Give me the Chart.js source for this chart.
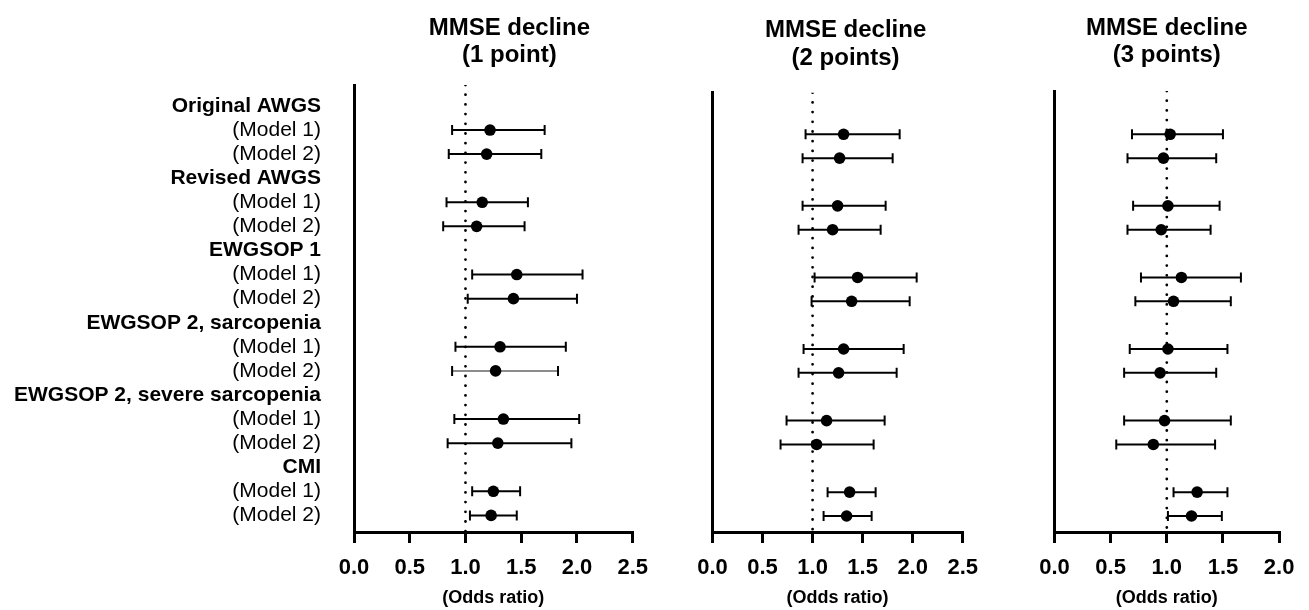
<!DOCTYPE html>
<html>
<head>
<meta charset="utf-8">
<script src="https://cdn.jsdelivr.net/npm/chart.js@4.4.1/dist/chart.umd.min.js"></script>
<style>
  html, body { margin: 0; padding: 0; background: #fff; }
  #wrap { position: relative; width: 1309px; height: 610px; overflow: hidden; }
  canvas { position: absolute; top: 0; }
</style>
</head>
<body>
<div id="wrap">
  <canvas id="panel1" width="660" height="610" style="left:0px"></canvas>
  <canvas id="panel2" width="330" height="610" style="left:660px"></canvas>
  <canvas id="panel3" width="319" height="610" style="left:990px"></canvas>
</div>
<script>
// row labels down the left side (headers are bold)
const rowLabels = [
    'Original AWGS', '(Model 1)', '(Model 2)',
    'Revised AWGS', '(Model 1)', '(Model 2)',
    'EWGSOP 1', '(Model 1)', '(Model 2)',
    'EWGSOP 2, sarcopenia', '(Model 1)', '(Model 2)',
    'EWGSOP 2, severe sarcopenia', '(Model 1)', '(Model 2)',
    'CMI', '(Model 1)', '(Model 2)'
];
const headerRows = [0, 3, 6, 9, 12, 15];
const modelRows = [1, 2, 4, 5, 7, 8, 10, 11, 13, 14, 16, 17];

// MMSE decline (1 point)
const title1 = ['MMSE decline', '(1 point)'];
const or1 = [1.22, 1.19, 1.15, 1.10, 1.46, 1.43, 1.31, 1.27, 1.34, 1.29, 1.25, 1.23];
const lo1 = [0.88, 0.85, 0.83, 0.80, 1.06, 1.02, 0.91, 0.88, 0.90, 0.84, 1.06, 1.04];
const hi1 = [1.71, 1.68, 1.56, 1.53, 2.05, 2.00, 1.90, 1.83, 2.02, 1.95, 1.49, 1.46];

// MMSE decline (2 points)
const title2 = ['MMSE decline', '(2 points)'];
const or2 = [1.31, 1.27, 1.25, 1.20, 1.45, 1.39, 1.31, 1.26, 1.14, 1.04, 1.37, 1.34];
const lo2 = [0.93, 0.90, 0.90, 0.86, 1.02, 0.99, 0.91, 0.86, 0.74, 0.68, 1.15, 1.11];
const hi2 = [1.87, 1.80, 1.73, 1.68, 2.04, 1.97, 1.91, 1.84, 1.72, 1.61, 1.63, 1.59];

// MMSE decline (3 points)
const title3 = ['MMSE decline', '(3 points)'];
const or3 = [1.03, 0.97, 1.01, 0.95, 1.13, 1.06, 1.01, 0.94, 0.98, 0.88, 1.27, 1.22];
const lo3 = [0.69, 0.65, 0.70, 0.65, 0.77, 0.72, 0.67, 0.62, 0.62, 0.55, 1.06, 1.01];
const hi3 = [1.50, 1.44, 1.47, 1.39, 1.66, 1.57, 1.54, 1.44, 1.57, 1.43, 1.54, 1.49];

const xMax1 = 2.5, xMax2 = 2.5, xMax3 = 2.0;
const refValue = 1; // no-effect line
const axisTitle = '(Odds ratio)';

Chart.defaults.font.family = "'Liberation Sans', Arial, sans-serif";
Chart.defaults.color = '#000';

// nudges the title block sideways after layout (titles are not centred on the plot)
const titleShift = {
    id: 'titleShift',
    afterLayout(chart, args, opts) {
        const t = chart.titleBlock;
        if (t && opts.dx) {
            t.left += opts.dx;
            t.right += opts.dx;
        }
    }
};

function MakePanel(canvasId, p) {
    let ciData = [];
    let capData = [];
    let pointData = [];
    p.or.forEach((v, k) => {
        let row = modelRows[k];
        ciData.push({ x: p.lo[k], y: row }, { x: p.hi[k], y: row }, { x: null, y: null });
        capData.push({ x: p.lo[k], y: row }, { x: p.hi[k], y: row });
        pointData.push({ x: v, y: row });
    });

    const config = {
        type: 'scatter',
        data: {
            datasets: [
                {
                    data: pointData, order: 0,
                    pointRadius: 5.8, pointBackgroundColor: '#000', pointBorderWidth: 0
                },
                {
                    data: capData, order: 1,
                    pointStyle: 'line', pointRotation: 90, pointRadius: 5,
                    pointBorderWidth: 2, pointBorderColor: '#000'
                },
                {
                    data: ciData, order: 2, showLine: true, spanGaps: false,
                    borderColor: '#000', borderWidth: 2, pointRadius: 0,
                    segment: {
                        borderColor: (ctx) => ctx.p0DataIndex === p.greyRow * 3 ? '#8c8c8c' : undefined
                    }
                },
                {
                    data: [{ x: refValue, y: p.yMin }, { x: refValue, y: p.yMax }], order: 3,
                    showLine: true, borderColor: '#000', borderWidth: 2.8,
                    borderDash: [0, 9.7], borderCapStyle: 'round', pointRadius: 0
                }
            ]
        },
        plugins: [titleShift],
        options: {
            responsive: false,
            animation: false,
            events: [],
            layout: { padding: { left: 0, right: p.padRight, top: 0, bottom: 0 } },
            plugins: {
                legend: { display: false },
                tooltip: { enabled: false },
                titleShift: { dx: p.titleDx },
                title: {
                    display: true, fullSize: false, text: p.title, color: '#000',
                    font: { size: 24, weight: 'bold', lineHeight: p.titleLine },
                    padding: { top: p.titleTop, bottom: p.titleBottom }
                }
            },
            scales: {
                x: {
                    type: 'linear', min: 0, max: p.xMax,
                    afterFit: (s) => { s.height = 610 - 532; },
                    ticks: {
                        stepSize: 0.5, padding: 12, autoSkip: false, maxRotation: 0,
                        color: '#000', font: { size: 22, weight: 'bold' },
                        callback: (v) => Number(v).toFixed(1)
                    },
                    grid: {
                        display: true, drawOnChartArea: false, drawTicks: true,
                        tickLength: 11, lineWidth: 3, tickWidth: 3, color: '#000'
                    },
                    border: { display: true, width: 3, color: '#000' },
                    title: {
                        display: true, text: axisTitle, color: '#000',
                        font: { size: 18, weight: 'bold' }, padding: { top: 0, bottom: 1 }
                    }
                },
                y: {
                    type: 'linear', reverse: true, min: p.yMin, max: p.yMax,
                    afterBuildTicks: (s) => { s.ticks = rowLabels.map((_, i) => ({ value: i })); },
                    afterFit: (s) => { s.width = p.chartLeft; },
                    ticks: {
                        display: p.showLabels, padding: 33, autoSkip: false, color: '#000',
                        callback: (v) => rowLabels[v],
                        font: (ctx) => ({
                            family: "'Liberation Sans', Arial, sans-serif",
                            size: 21,
                            weight: headerRows.includes(ctx.index) ? 'bold' : 'normal'
                        })
                    },
                    grid: { display: false, drawTicks: false },
                    border: { display: true, width: 3, color: '#000' }
                }
            }
        }
    };

    try {
        new Chart(document.getElementById(canvasId), config);
    }
    catch (e) {
        console.error('Error draw graph', e);
    }
}

MakePanel('panel1', {
    title: title1, or: or1, lo: lo1, hi: hi1, xMax: xMax1,
    chartLeft: 354, padRight: 26, yMin: -0.87, yMax: 17.69,
    titleLine: '27px', titleTop: 14.5, titleBottom: 16.5, titleDx: 16,
    showLabels: true, greyRow: 7
});
MakePanel('panel2', {
    title: title2, or: or2, lo: lo2, hi: hi2, xMax: xMax2,
    chartLeft: 52.5, padRight: 23.3, yMin: -0.743, yMax: 17.67,
    titleLine: '28px', titleTop: 16, titleBottom: 20.7, titleDx: 8,
    showLabels: false, greyRow: -1
});
MakePanel('panel3', {
    title: title3, or: or3, lo: lo3, hi: hi3, xMax: xMax3,
    chartLeft: 64.5, padRight: 29.9, yMin: -0.815, yMax: 17.67,
    titleLine: '27px', titleTop: 14.5, titleBottom: 22.5, titleDx: 0,
    showLabels: false, greyRow: -1
});
</script>
</body>
</html>
